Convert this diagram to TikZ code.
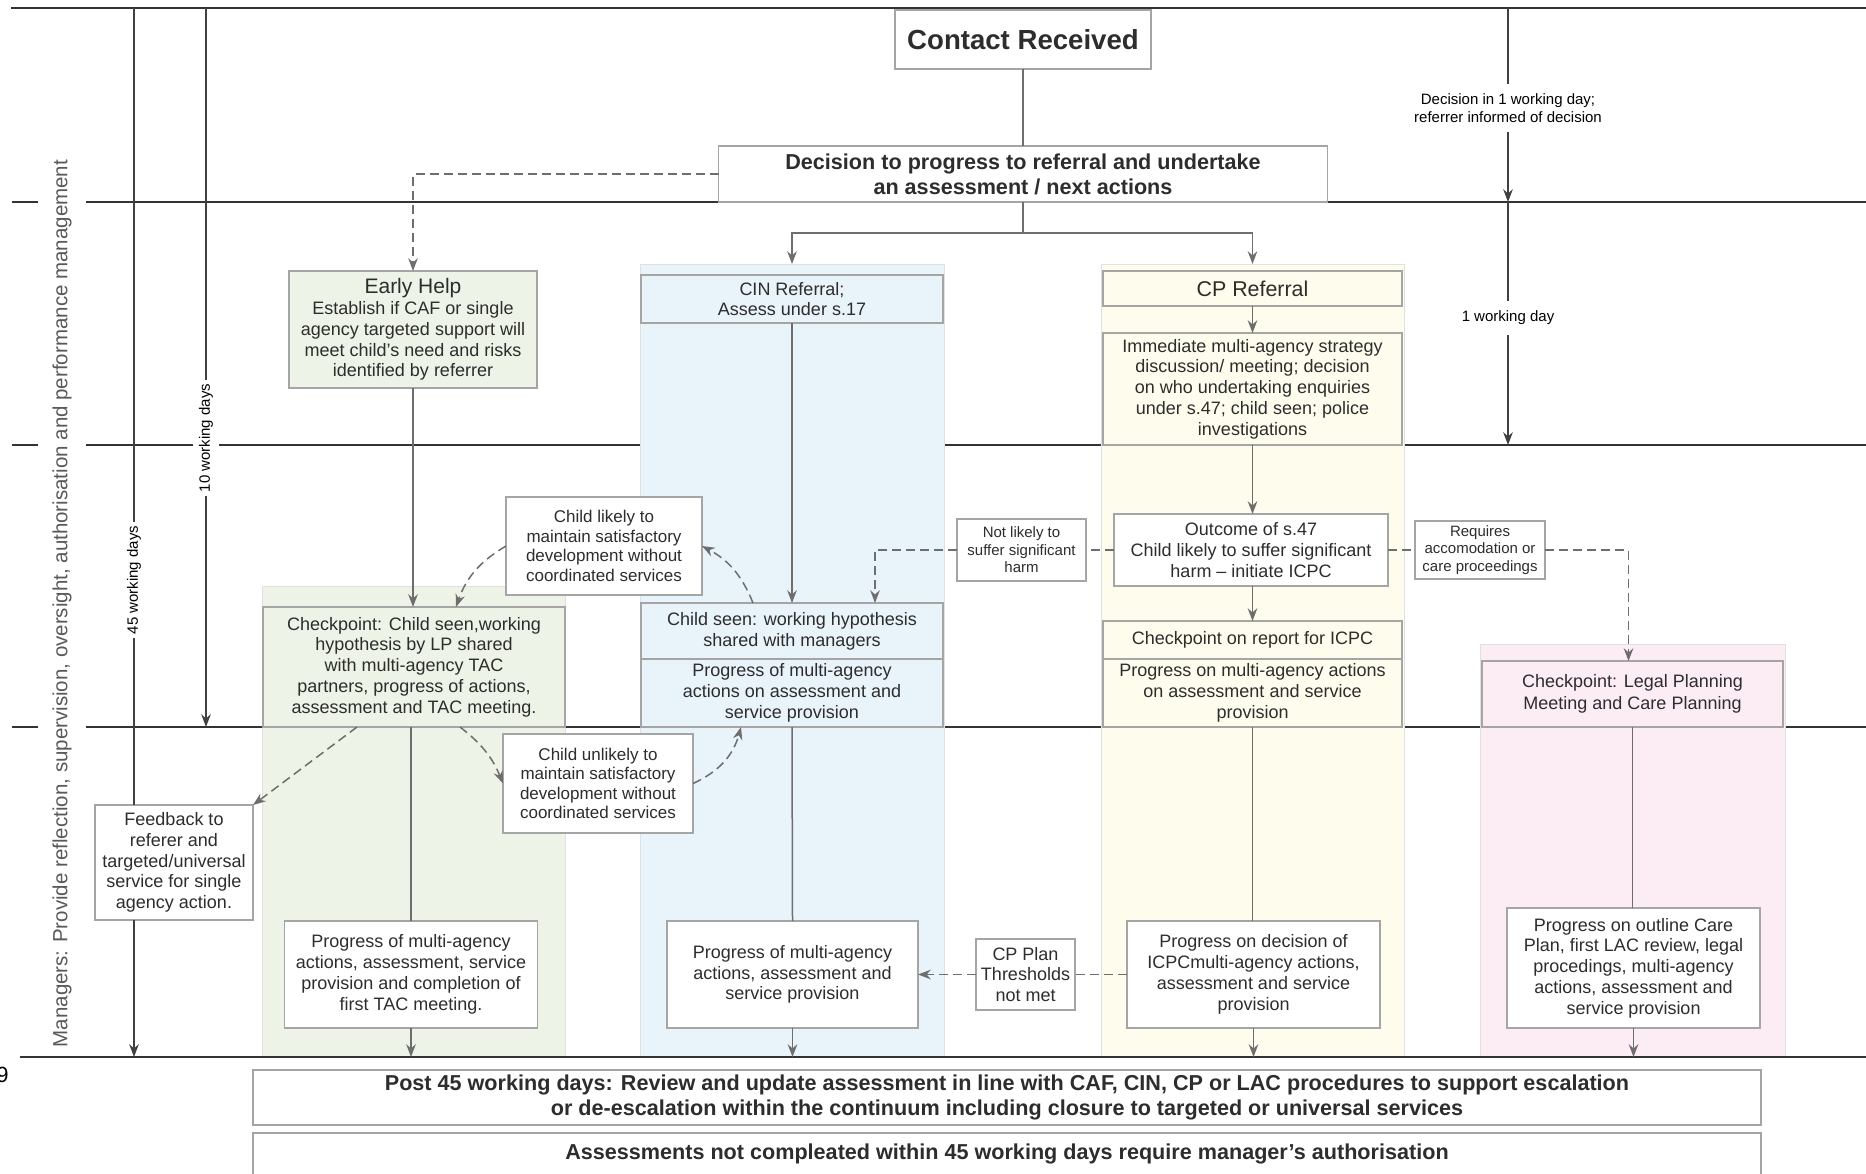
\documentclass[tikz,border=0pt]{standalone}
\usepackage{fontspec}
\setmainfont{Liberation Sans}
\usepackage{tikz}
\usetikzlibrary{arrows.meta, positioning, calc}

\definecolor{ehgreen}{RGB}{238,243,231}
\definecolor{cinblue}{RGB}{233,243,250}
\definecolor{cpyellow}{RGB}{253,252,237}
\definecolor{lacpink}{RGB}{251,237,243}
\definecolor{boxline}{RGB}{165,165,165}
\definecolor{connline}{RGB}{110,110,110}
\definecolor{inkgray}{RGB}{45,45,45}

\begin{document}
\begin{tikzpicture}[
  x=0.5pt, y=-0.5pt,
  laneline/.style={draw=black!80, line width=1pt},
  lane/.style={draw=black!12, line width=0.5pt, inner sep=0pt, outer sep=0pt},
  box/.style={draw=boxline, line width=0.75pt, fill=white, align=center, inner sep=1pt, outer sep=0pt, text=inkgray, font=\fontsize{9}{10.4}\selectfont},
  smallbox/.style={box, font=\fontsize{7.5}{8.7}\selectfont},
  notebox/.style={box, font=\fontsize{8.5}{9.7}\selectfont},
  headbox/.style={box, font=\fontsize{10.8}{12.6}\selectfont\bfseries},
  conn/.style={draw=connline, line width=0.75pt},
  dashconn/.style={conn, dash pattern=on 4.5pt off 2.5pt},
  tline/.style={draw=black!75, line width=0.75pt},
  tlabel/.style={fill=white, align=center, text=black, font=\fontsize{7.5}{8.8}\selectfont, inner xsep=2pt, inner ysep=4.5pt},
  vlabel/.style={tlabel, rotate=90, inner xsep=1.5pt, inner ysep=3pt},
]
\useasboundingbox (0,0) rectangle (1866,1173);

% row lines
\draw[laneline] (11,8) -- (1866,8);
\foreach \y in {202,445,727} \draw[laneline] (12,\y) -- (1866,\y);
\coordinate (row1) at (0,202);
\coordinate (row2) at (0,445);
\coordinate (row3) at (0,727);

\node[rotate=90, fill=white, text=black!65, inner xsep=0pt, inner ysep=7pt,
  font=\fontsize{10.25}{12}\selectfont] (managers) at (62,603.5)
  {Managers: Provide reflection, supervision, oversight, authorisation and performance management};

% lanes
\node[lane, fill=ehgreen, minimum width=151.5pt, minimum height=235.5pt] (ehlane) at (413.5,821.5) {};
\node[lane, fill=cinblue, minimum width=152pt, minimum height=396.5pt] (cinlane) at (792,660.5) {};
\node[lane, fill=cpyellow, minimum width=151.5pt, minimum height=396.5pt] (cplane) at (1252.5,660.5) {};
\node[lane, fill=lacpink, minimum width=152.5pt, minimum height=206.5pt] (laclane) at (1632.5,850.5) {};
\draw[laneline] (20,1057) coordinate (base) -- (1866,1057);
\node[anchor=east, inner sep=0pt, font=\fontsize{11}{12}\selectfont] (pagenum) at (9,1075) {9};

% top
\node[box, font=\fontsize{13.8}{16}\selectfont\bfseries, minimum width=128pt, minimum height=29.5pt] (contact) at (1023,39.5) {Contact Received};
\node[headbox, minimum width=304.5pt, minimum height=28pt] (decision) at (1023,174)
  {Decision to progress to referral and undertake\\an assessment / next actions};

% timelines
\coordinate (t45) at (134,8);
\coordinate (t10) at (206,8);
\coordinate (tday) at (1508,8);
\node[vlabel] (lbl45) at (134,580) {45 working days};
\node[vlabel] (lbl10) at (206,438) {10 working days};
\node[tlabel] (lblday1) at (1508,108) {Decision in 1 working day;\\referrer informed of decision};
\node[tlabel, inner ysep=5pt] (lblday2) at (1508,318) {1 working day};

% early help
\node[box, fill=ehgreen, minimum width=124pt, minimum height=58.5pt] (earlyhelp) at (413,329.5)
  {{\fontsize{10.5}{12}\selectfont Early Help}\\Establish if CAF or single\\agency targeted support will\\meet child’s need and risks\\identified by referrer};
\node[box, fill=ehgreen, minimum width=151pt, minimum height=60pt] (ehcheck) at (414,667)
  {Checkpoint: Child seen,working\\hypothesis by LP shared\\with multi-agency TAC\\partners, progress of actions,\\assessment and TAC meeting.};
\node[notebox, minimum width=98pt, minimum height=49pt] (likely) at (604,546)
  {Child likely to\\maintain satisfactory\\development without\\coordinated services};
\node[notebox, minimum width=95pt, minimum height=49.5pt] (unlikely) at (598,783.5)
  {Child unlikely to\\maintain satisfactory\\development without\\coordinated services};
\node[box, minimum width=79pt, minimum height=57.5pt] (feedback) at (174,862.5)
  {Feedback to\\referer and\\targeted/universal\\service for single\\agency action.};
\node[box, minimum width=126.5pt, minimum height=53.5pt] (ehprog) at (411,974.5)
  {Progress of multi-agency\\actions, assessment, service\\provision and completion of\\first TAC meeting.};

% CIN
\node[box, fill=cinblue, minimum width=151pt, minimum height=24pt] (cinref) at (792,299)
  {CIN Referral;\\Assess under s.17};
\node[box, fill=cinblue, minimum width=151pt, minimum height=28pt] (cinseen) at (792,631)
  {Child seen: working hypothesis\\shared with managers};
\node[box, fill=cinblue, minimum width=151pt, minimum height=34pt, below=0pt of cinseen] (cinprog)
  {Progress of multi-agency\\actions on assessment and\\service provision};
\node[box, minimum width=125.5pt, minimum height=53.5pt] (cinprog2) at (792.5,974.5)
  {Progress of multi-agency\\actions, assessment and\\service provision};

% CP
\node[box, fill=cpyellow, font=\fontsize{10.7}{12}\selectfont, minimum width=149.5pt, minimum height=17.5pt] (cpref) at (1252.5,288.5)
  {CP Referral};
\node[box, fill=cpyellow, minimum width=149.5pt, minimum height=56pt] (immediate) at (1252.5,389)
  {Immediate multi-agency strategy\\discussion/ meeting; decision\\on who undertaking enquiries\\under s.47; child seen; police\\investigations};
\node[box, minimum width=137pt, minimum height=36pt] (outcome) at (1251,550)
  {Outcome of s.47\\Child likely to suffer significant\\harm – initiate ICPC};
\node[box, fill=cpyellow, minimum width=149.5pt, minimum height=19pt] (cpcheck) at (1252.5,640)
  {Checkpoint on report for ICPC};
\node[box, fill=cpyellow, minimum width=149.5pt, minimum height=34pt, below=0pt of cpcheck] (cpprog)
  {Progress on multi-agency actions\\on assessment and service\\provision};
\node[box, minimum width=126.5pt, minimum height=53.5pt] (cpprog2) at (1253.5,974.5)
  {Progress on decision of\\ICPCmulti-agency actions,\\assessment and service\\provision};
\node[smallbox, minimum width=64.5pt, minimum height=31pt] (notlikely) at (1021.5,550)
  {Not likely to\\suffer significant\\harm};
\node[smallbox, minimum width=65pt, minimum height=29pt] (requires) at (1480,550)
  {Requires\\accomodation or\\care proceedings};
\node[box, minimum width=49.5pt, minimum height=35.5pt] (cpplan) at (1025.5,974.5)
  {CP Plan\\Thresholds\\not met};

% LAC
\node[box, fill=lacpink, font=\fontsize{9}{11}\selectfont, minimum width=150.5pt, minimum height=33pt] (laccheck) at (1632.5,694)
  {Checkpoint: Legal Planning\\Meeting and Care Planning};
\node[box, minimum width=126.5pt, minimum height=60pt] (lacprog) at (1633.5,968)
  {Progress on outline Care\\Plan, first LAC review, legal\\procedings, multi-agency\\actions, assessment and\\service provision};

% bottom
\node[headbox, minimum width=754pt, minimum height=27.5pt] (post45) at (1007,1097.5)
  {Post 45 working days: Review and update assessment in line with CAF, CIN, CP or LAC procedures to support escalation\\or de-escalation within the continuum including closure to targeted or universal services};
\node[headbox, minimum width=754pt, minimum height=21pt] (assess) at (1007,1154)
  {Assessments not compleated within 45 working days require manager’s authorisation};

% connectors
\draw[conn] (contact.south) -- (decision.north);
\draw[conn] (decision.south) -- ++(0,31) coordinate (split);
\draw[conn, -Stealth] (split) -| (cinlane.north);
\draw[conn, -Stealth] (split) -| (cplane.north);
\draw[dashconn, -Stealth] (decision.west) -| (earlyhelp.north);

\draw[tline] (t45) -- (lbl45);
\draw[tline] (lbl45) -- (lbl45 |- feedback.north);
\draw[tline, -Stealth] (lbl45 |- feedback.south) -- (lbl45 |- base);
\draw[tline] (t10) -- (lbl10);
\draw[tline, -Stealth] (lbl10) -- (lbl10 |- row3);
\draw[tline] (tday) -- (lblday1);
\draw[tline, -Stealth] (lblday1) -- (lblday1 |- row1);
\draw[tline] (lblday1 |- row1) -- (lblday2);
\draw[tline, -Stealth] (lblday2) -- (lblday2 |- row2);

\draw[conn, -Stealth] (earlyhelp.south) -- (earlyhelp.south |- ehcheck.north);
\draw[conn] (ehprog.north |- ehcheck.south) -- (ehprog.north);
\draw[conn, -Stealth] (ehprog.south) -- (ehprog.south |- base);
\draw[dashconn, -Stealth] (likely.west) to[bend right=20] ($(ehcheck.north)+(42,0)$);
\draw[dashconn, -Stealth] ($(cinseen.north)+(-39,0)$) to[bend right=20] (likely.east);
\draw[dashconn, -Stealth] ($(ehcheck.south)+(46,0)$) to[bend left=15] (unlikely.west);
\draw[dashconn, -Stealth] (unlikely.east) to[bend right=25] ($(cinprog.south)+(-51,0)$);
\draw[dashconn, -Stealth] ($(ehcheck.south)+(-57,0)$) -- (feedback.north east);

\draw[conn, -Stealth] (cinref.south) -- (cinseen.north);
\draw[conn] (cinprog.south) -- (cinprog2.north);
\draw[conn, -Stealth] (cinprog2.south) -- (cinprog2.south |- base);

\draw[conn, -Stealth] (cpref.south) -- (immediate.north);
\draw[conn, -Stealth] (immediate.south) -- (immediate.south |- outcome.north);
\draw[conn, -Stealth] (outcome.south -| cpcheck.north) -- (cpcheck.north);
\draw[conn] (cpprog.south) -- (cpprog.south |- cpprog2.north);
\draw[conn, -Stealth] (cpprog2.south) -- (cpprog2.south |- base);
\draw[dashconn] (outcome.west) -- (notlikely.east);
\draw[dashconn, -Stealth] (notlikely.west) -| ($(cinseen.north)+(83,0)$);
\draw[dashconn] (outcome.east) -- (requires.west);
\draw[dashconn, -Stealth] (requires.east) -| ($(laccheck.north)+(-4,0)$);
\draw[dashconn] (cpprog2.west) -- (cpplan.east);
\draw[dashconn, -Stealth] (cpplan.west) -- (cinprog2.east);

\draw[conn] (laccheck.south) -- (laccheck.south |- lacprog.north);
\draw[conn, -Stealth] (lacprog.south) -- (lacprog.south |- base);
\end{tikzpicture}
\end{document}
